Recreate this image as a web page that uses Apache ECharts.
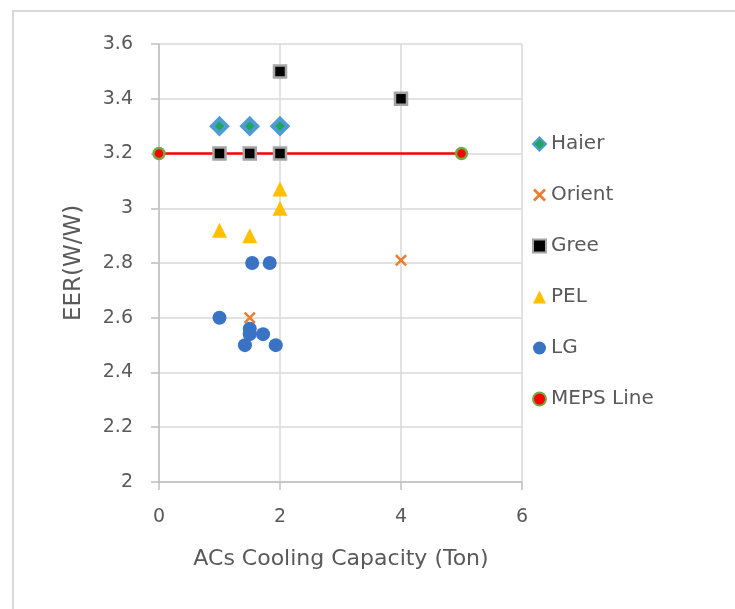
<!DOCTYPE html>
<html>
<head>
<meta charset="utf-8">
<script src="https://cdn.jsdelivr.net/npm/echarts@6/dist/echarts.min.js"></script>
<style>
  html, body { margin: 0; padding: 0; background: #fff; overflow: hidden; }
  #frame { position: absolute; left: 12px; top: 10px; width: 800px; height: 700px;
           border-left: 2px solid #d9d9d9; border-top: 2px solid #d9d9d9; }
  #main { position: absolute; left: 0; top: 0; width: 735px; height: 609px; }
</style>
</head>
<body>
<div id="frame"></div>
<div id="main"></div>
<script>
// values
var seriesNames = ['Haier', 'Orient', 'Gree', 'PEL', 'LG', 'MEPS Line'];
var haierX = [1, 1.5, 2];
var haierY = [3.3, 3.3, 3.3];
var orientX = [1.5, 4];
var orientY = [2.6, 2.81];
var greeX = [1, 1.5, 2, 2, 4];
var greeY = [3.2, 3.2, 3.2, 3.5, 3.4];
var pelX = [1, 1.5, 2, 2];
var pelY = [2.92, 2.9, 3.07, 3.0];
var lgX = [1, 1.54, 1.83, 1.5, 1.5, 1.72, 1.42, 1.93];
var lgY = [2.6, 2.8, 2.8, 2.56, 2.54, 2.54, 2.5, 2.5];
var mepsX = [0, 5];
var mepsY = [3.2, 3.2];
var xTicks = [0, 2, 4, 6];
var yTicks = [2, 2.2, 2.4, 2.6, 2.8, 3, 3.2, 3.4, 3.6];

function pairs(xs, ys) {
  var out = [];
  for (var i = 0; i < xs.length; i++) {
    out.push([xs[i], ys[i]]);
  }
  return out;
}

var font = 'DejaVu Sans';
var textColor = '#595959';
var crossPath = 'path://M0,1.5 L1.5,0 L5,3.5 L8.5,0 L10,1.5 L6.5,5 L10,8.5 L8.5,10 L5,6.5 L1.5,10 L0,8.5 L3.5,5 Z';

var chart = echarts.init(document.getElementById('main'));
var option = {
  backgroundColor: 'transparent',
  animation: false,
  grid: {
    left: 159,
    right: 213,
    top: 44,
    bottom: 127
  },
  graphic: [
    {
      type: 'text',
      x: 74,
      y: 263,
      rotation: Math.PI / 2,
      style: {
        text: 'EER(W/W)',
        font: '23px "' + font + '"',
        fill: textColor,
        align: 'center',
        verticalAlign: 'middle'
      }
    },
    {
      type: 'text',
      x: 341,
      y: 559,
      style: {
        text: 'ACs Cooling Capacity (Ton)',
        font: '22px "' + font + '"',
        fill: textColor,
        align: 'center',
        verticalAlign: 'middle'
      }
    }
  ],
  legend: {
    orient: 'vertical',
    left: 527,
    top: 129,
    itemGap: 31,
    itemWidth: 13,
    itemHeight: 13,
    textStyle: {
      fontFamily: font,
      fontSize: 20,
      lineHeight: 20,
      color: textColor,
      padding: [0, 0, 0, 0]
    },
    data: [
      { name: 'Haier', icon: 'diamond' },
      { name: 'Orient', icon: crossPath },
      { name: 'Gree', icon: 'rect' },
      { name: 'PEL', icon: 'triangle' },
      { name: 'LG', icon: 'circle' },
      { name: 'MEPS Line', icon: 'circle' }
    ]
  },
  xAxis: {
    type: 'value',
    min: xTicks[0],
    max: xTicks[xTicks.length - 1],
    interval: 2,
    axisLine: { show: true, onZero: false, lineStyle: { color: '#bfbfbf', width: 1.5 } },
    axisTick: { show: true, inside: false, length: 8, lineStyle: { color: '#bfbfbf', width: 1.5 } },
    axisLabel: { margin: 26, fontFamily: font, fontSize: 19, color: textColor },
    splitLine: { show: true, lineStyle: { color: '#d9d9d9', width: 1.5 } }
  },
  yAxis: {
    type: 'value',
    min: yTicks[0],
    max: yTicks[yTicks.length - 1],
    interval: 0.2,
    axisLine: { show: true, onZero: false, lineStyle: { color: '#bfbfbf', width: 1.5 } },
    axisTick: { show: true, inside: false, length: 8, lineStyle: { color: '#bfbfbf', width: 1.5 } },
    axisLabel: { margin: 26, fontFamily: font, fontSize: 19, color: textColor },
    splitLine: { show: true, lineStyle: { color: '#d9d9d9', width: 1.5 } }
  },
  series: [
    {
      name: 'Haier',
      type: 'scatter',
      symbol: 'diamond',
      symbolSize: [15, 15],
      itemStyle: { color: '#1fa65a', borderColor: '#4f9bd6', borderWidth: 4, opacity: 1 },
      data: pairs(haierX, haierY)
    },
    {
      name: 'Orient',
      type: 'scatter',
      symbol: crossPath,
      symbolSize: 12,
      itemStyle: { color: '#ed7d31', opacity: 1 },
      data: pairs(orientX, orientY)
    },
    {
      name: 'Gree',
      type: 'scatter',
      symbol: 'rect',
      symbolSize: 12,
      itemStyle: { color: '#000000', borderColor: '#a5a5a5', borderWidth: 2.5, opacity: 1 },
      data: pairs(greeX, greeY)
    },
    {
      name: 'PEL',
      type: 'scatter',
      symbol: 'triangle',
      symbolSize: 15,
      itemStyle: { color: '#ffc000', opacity: 1 },
      data: pairs(pelX, pelY)
    },
    {
      name: 'LG',
      type: 'scatter',
      symbol: 'circle',
      symbolSize: 14,
      itemStyle: { color: '#3a72c4', opacity: 1 },
      data: pairs(lgX, lgY)
    },
    {
      name: 'MEPS Line',
      type: 'line',
      z: 1,
      symbol: 'circle',
      symbolSize: 11,
      showAllSymbol: true,
      lineStyle: { color: '#ff0000', width: 2.5 },
      itemStyle: { color: '#ff0000', borderColor: '#70ad47', borderWidth: 2.5 },
      data: pairs(mepsX, mepsY)
    }
  ]
};
chart.setOption(option);
</script>
</body>
</html>
